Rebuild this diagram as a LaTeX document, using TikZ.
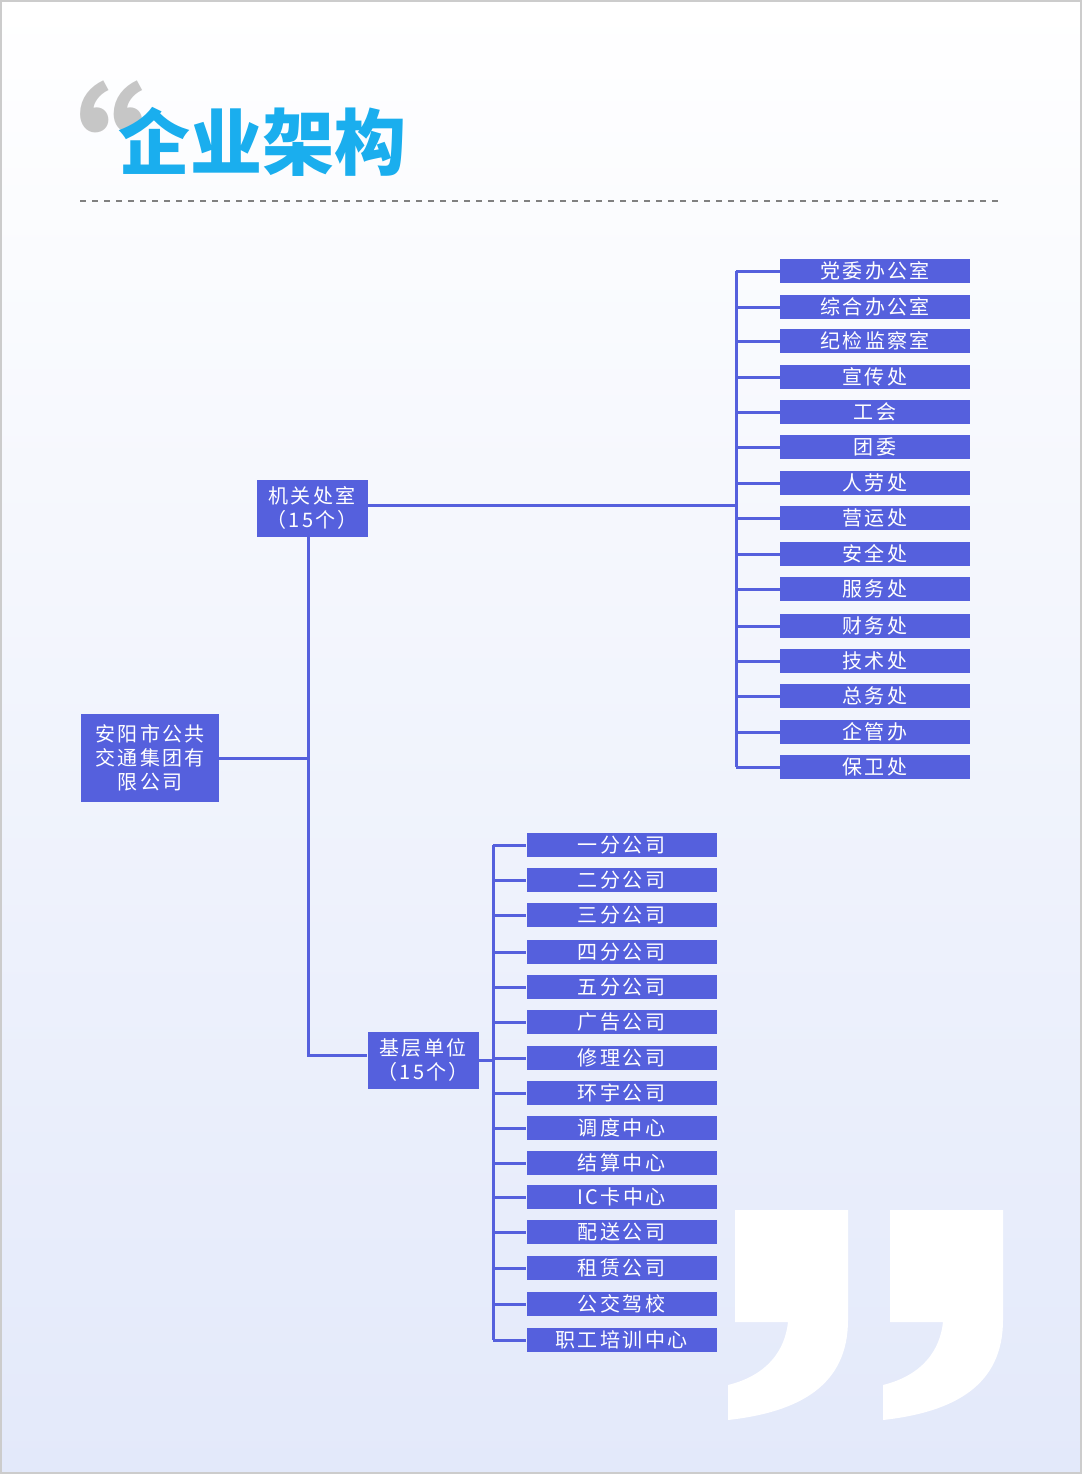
\documentclass[tikz,border=0pt]{standalone}
\usepackage{fontspec}
\newfontfamily\cjk{Noto Sans CJK SC}
\newfontfamily\boxfont[LetterSpace=12]{Noto Sans CJK SC}
\usetikzlibrary{positioning}
\definecolor{boxblue}{HTML}{5560DD}
\definecolor{titleblue}{HTML}{1AAEEE}
\definecolor{bgblue}{HTML}{E3E9FA}
\tikzset{
  unit/.style={fill=boxblue,text=white,font=\boxfont\fontsize{10}{12}\selectfont,inner sep=0pt,minimum height=12pt,minimum width=95pt},
  head/.style={fill=boxblue,text=white,font=\boxfont\fontsize{10}{12}\selectfont,align=center,inner sep=0pt,minimum width=55.5pt,minimum height=28.5pt},
  link/.style={draw=boxblue,line width=1.5pt},
  comma/.style={fill=white}
}
\begin{document}
\begin{tikzpicture}[x=0.5pt,y=-0.5pt]
\shade[top color=white,bottom color=bgblue] (0,0) rectangle (1082,1474);
\useasboundingbox (0,0) rectangle (1082,1474);
\draw[gray!40,line width=1pt] (1,1) rectangle (1081,1473);
% heading
\node[text=gray!45,font=\cjk\bfseries\fontsize{80}{80}\selectfont,anchor=north west,inner sep=0pt] (quoteopen) at (-15,80) {“};
\node[text=titleblue,font=\cjk\bfseries\fontsize{36}{36}\selectfont,anchor=west,inner sep=0pt] (title) at (118,142) {企业架构};
\draw[gray,dashed,line width=0.6pt] (80,201) -- (1000,201);
% closing quote
\foreach \dx in {0,155}{
  \fill[comma,xshift=\dx*0.5pt] (735,1210) -- (848,1210) -- (848,1320) .. controls (848,1385) and (800,1412) .. (728,1420) -- (728,1385) .. controls (768,1375) and (785,1350) .. (788,1322) -- (735,1322) -- cycle;
}

% root and branches
\node[head,minimum width=69pt,minimum height=44pt] (root) at (150,758) {安阳市公共\\交通集团有\\限公司};
\node[head] (office) at (312,508) {机关处室\\（15个）};
\node[head] (base) at (423,1060) {基层单位\\（15个）};
\coordinate (trunk) at (308,758);
\draw[link] (root.east) -- (trunk);
\draw[link] (office.south -| trunk) -- (308,1055) -- (base.west |- 0,1055);

% offices
\coordinate (obus) at (736,505);
\draw[link] (office.east |- obus) -- (obus);
\draw[link] (736,271) -- (736,767);
\foreach \lbl/\yy [count=\i] in {党委办公室/271,综合办公室/307,纪检监察室/341,宣传处/377,工会/412,团委/447,人劳处/483,营运处/518,安全处/554,服务处/589,财务处/626,技术处/661,总务处/696,企管办/732,保卫处/767}{
  \node[unit] (o\i) at (875,\yy) {\lbl};
  \draw[link] (736,\yy) -- (o\i.west);
}

% base units
\draw[link] (base.east) -- (493,1060);
\draw[link] (493,845) -- (493,1340);
\foreach \lbl/\yy [count=\i] in {一分公司/845,二分公司/880,三分公司/915,四分公司/952,五分公司/987,广告公司/1022,修理公司/1058,环宇公司/1093,调度中心/1128,结算中心/1163,IC卡中心/1197,配送公司/1232,租赁公司/1268,公交驾校/1304,职工培训中心/1340}{
  \node[unit] (b\i) at (621.5,\yy) {\lbl};
  \draw[link] (493,\yy) -- (b\i.west);
}
\end{tikzpicture}
\end{document}
